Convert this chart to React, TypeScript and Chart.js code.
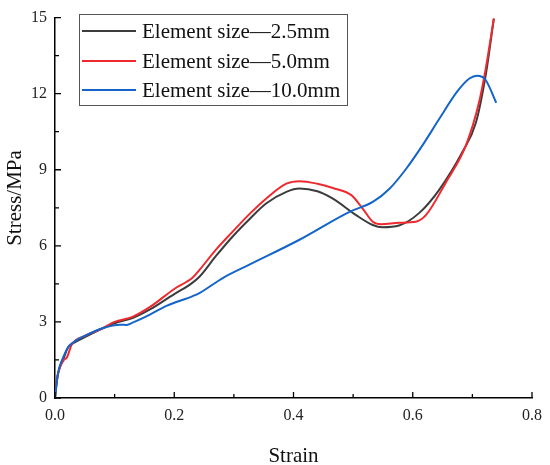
import React, { useEffect, useRef } from "react";
import { Chart, registerables } from "chart.js";

Chart.register(...registerables);

const seriesNames = ["Element size\u20142.5mm", "Element size\u20145.0mm", "Element size\u201410.0mm"];
const seriesColors = ["#3c3c3c", "#ee2a2f", "#1565c8"];

const strain25 = [0, 0.003, 0.008, 0.015, 0.022, 0.03, 0.05, 0.08, 0.1, 0.13, 0.16, 0.2, 0.225, 0.243, 0.27, 0.298, 0.326, 0.354, 0.388, 0.41, 0.44, 0.466, 0.505, 0.533, 0.549, 0.577, 0.611, 0.644, 0.683, 0.706, 0.722, 0.736];
const stress25 = [0, 0.7, 1.2, 1.6, 2.0, 2.15, 2.4, 2.75, 2.95, 3.15, 3.5, 4.1, 4.45, 4.8, 5.6, 6.37, 7.05, 7.67, 8.13, 8.26, 8.15, 7.86, 7.21, 6.82, 6.73, 6.8, 7.3, 8.2, 9.69, 10.86, 12.68, 14.96];

const strain50 = [0, 0.003, 0.008, 0.015, 0.02, 0.028, 0.05, 0.08, 0.1, 0.13, 0.16, 0.2, 0.231, 0.243, 0.27, 0.298, 0.326, 0.354, 0.388, 0.41, 0.44, 0.466, 0.497, 0.516, 0.533, 0.547, 0.577, 0.605, 0.622, 0.656, 0.689, 0.711, 0.722, 0.736];
const stress50 = [0, 0.7, 1.2, 1.5, 1.6, 2.1, 2.45, 2.75, 3.0, 3.2, 3.6, 4.3, 4.75, 5.07, 5.85, 6.56, 7.25, 7.86, 8.45, 8.55, 8.45, 8.28, 8.0, 7.47, 6.95, 6.85, 6.91, 6.95, 7.21, 8.52, 9.95, 11.64, 12.94, 14.96];

const strain100 = [0, 0.0055, 0.012, 0.022, 0.031, 0.05, 0.081, 0.109, 0.12, 0.131, 0.16, 0.187, 0.231, 0.243, 0.282, 0.326, 0.41, 0.494, 0.533, 0.561, 0.589, 0.616, 0.644, 0.675, 0.695, 0.708, 0.722, 0.74];
const stress100 = [0, 1.03, 1.5, 2.0, 2.2, 2.45, 2.76, 2.89, 2.88, 2.98, 3.3, 3.63, 4.02, 4.15, 4.74, 5.26, 6.24, 7.34, 7.73, 8.25, 9.04, 9.95, 10.99, 12.1, 12.6, 12.71, 12.55, 11.64];

const xMajorTicks = [0, 0.2, 0.4, 0.6, 0.8];
const xMinorTicks = [0.1, 0.3, 0.5, 0.7];
const yMajorTicks = [0, 3, 6, 9, 12, 15];
const yMinorTicks = [1.5, 4.5, 7.5, 10.5, 13.5];

const xTitle = "Strain";
const yTitle = "Stress/MPa";

const SERIF = "'Liberation Serif', 'Times New Roman', serif";

const toPoints = (xs: number[], ys: number[]) => xs.map((x, i) => ({ x, y: ys[i] }));

const decorPlugin = {
  id: "decor",
  afterDraw(chart: any) {
    const ctx = chart.ctx;
    const xs = chart.scales.x;
    const ys = chart.scales.y;
    const area = chart.chartArea;
    ctx.save();
    ctx.strokeStyle = "#000";
    ctx.lineWidth = 1.3;
    ctx.beginPath();
    xMajorTicks.forEach((v) => {
      const px = xs.getPixelForValue(v);
      ctx.moveTo(px, area.bottom);
      ctx.lineTo(px, area.bottom - 6);
    });
    xMinorTicks.forEach((v) => {
      const px = xs.getPixelForValue(v);
      ctx.moveTo(px, area.bottom);
      ctx.lineTo(px, area.bottom - 4);
    });
    yMajorTicks.forEach((v) => {
      const py = ys.getPixelForValue(v);
      ctx.moveTo(area.left, py);
      ctx.lineTo(area.left + 6, py);
    });
    yMinorTicks.forEach((v) => {
      const py = ys.getPixelForValue(v);
      ctx.moveTo(area.left, py);
      ctx.lineTo(area.left + 4, py);
    });
    ctx.stroke();

    // axis titles
    ctx.fillStyle = "#111";
    ctx.font = `21px ${SERIF}`;
    ctx.textAlign = "center";
    ctx.textBaseline = "middle";
    ctx.fillText(xTitle, (area.left + area.right) / 2, 456);
    ctx.save();
    ctx.translate(15, 198);
    ctx.rotate(-Math.PI / 2);
    ctx.fillText(yTitle, 0, 0);
    ctx.restore();

    // legend
    const bx = 79, by = 14, bw = 268, bh = 91;
    ctx.fillStyle = "#fff";
    ctx.fillRect(bx, by, bw, bh);
    ctx.strokeStyle = "#555";
    ctx.lineWidth = 1;
    ctx.strokeRect(bx + 0.5, by + 0.5, bw, bh);
    const rows = [31, 61, 90];
    ctx.font = `21px ${SERIF}`;
    ctx.textAlign = "left";
    ctx.textBaseline = "middle";
    seriesNames.forEach((name, i) => {
      ctx.strokeStyle = seriesColors[i];
      ctx.lineWidth = 2;
      ctx.beginPath();
      ctx.moveTo(82, rows[i]);
      ctx.lineTo(136, rows[i]);
      ctx.stroke();
      ctx.fillStyle = "#111";
      ctx.fillText(name, 142, rows[i] + 1);
    });
    ctx.restore();
  },
};

export default function App() {
  const ref = useRef<HTMLCanvasElement | null>(null);
  useEffect(() => {
    if (!ref.current) return;
    const chart = new Chart(ref.current, {
      type: "scatter",
      data: {
        datasets: [
          { label: seriesNames[0], data: toPoints(strain25, stress25), borderColor: seriesColors[0], order: 3 },
          { label: seriesNames[1], data: toPoints(strain50, stress50), borderColor: seriesColors[1], order: 2 },
          { label: seriesNames[2], data: toPoints(strain100, stress100), borderColor: seriesColors[2], order: 1 },
        ].map((d) => ({
          ...d,
          showLine: true,
          pointRadius: 0,
          borderWidth: 2,
          backgroundColor: d.borderColor,
          cubicInterpolationMode: "monotone" as const,
        })),
      },
      options: {
        animation: false,
        responsive: false,
        devicePixelRatio: 1,
        layout: { padding: { top: 14, right: 17, left: 0, bottom: 0 } },
        plugins: { legend: { display: false }, tooltip: { enabled: false } },
        scales: {
          x: {
            type: "linear",
            min: 0,
            max: 0.8,
            afterFit: (s: any) => { s.height = 67; },
            grid: { display: false, drawTicks: false },
            border: { display: true, color: "#000", width: 1.5 },
            ticks: {
              stepSize: 0.2,
              padding: 8,
              color: "#222",
              font: { family: SERIF, size: 16 },
              callback: (v: any) => Number(v).toFixed(1),
            },
          },
          y: {
            type: "linear",
            min: 0,
            max: 15,
            afterFit: (s: any) => { s.width = 55; },
            grid: { display: false, drawTicks: false },
            border: { display: true, color: "#000", width: 1.5 },
            ticks: {
              stepSize: 3,
              padding: 8,
              color: "#222",
              font: { family: SERIF, size: 16 },
            },
          },
        },
      },
      plugins: [decorPlugin],
    });
    return () => chart.destroy();
  }, []);
  return (
    <div style={{ position: "fixed", left: 0, top: 0, width: 550, height: 465, background: "#fff" }}>
      <canvas ref={ref} width={550} height={465} style={{ width: 550, height: 465, display: "block" }} />
    </div>
  );
}
